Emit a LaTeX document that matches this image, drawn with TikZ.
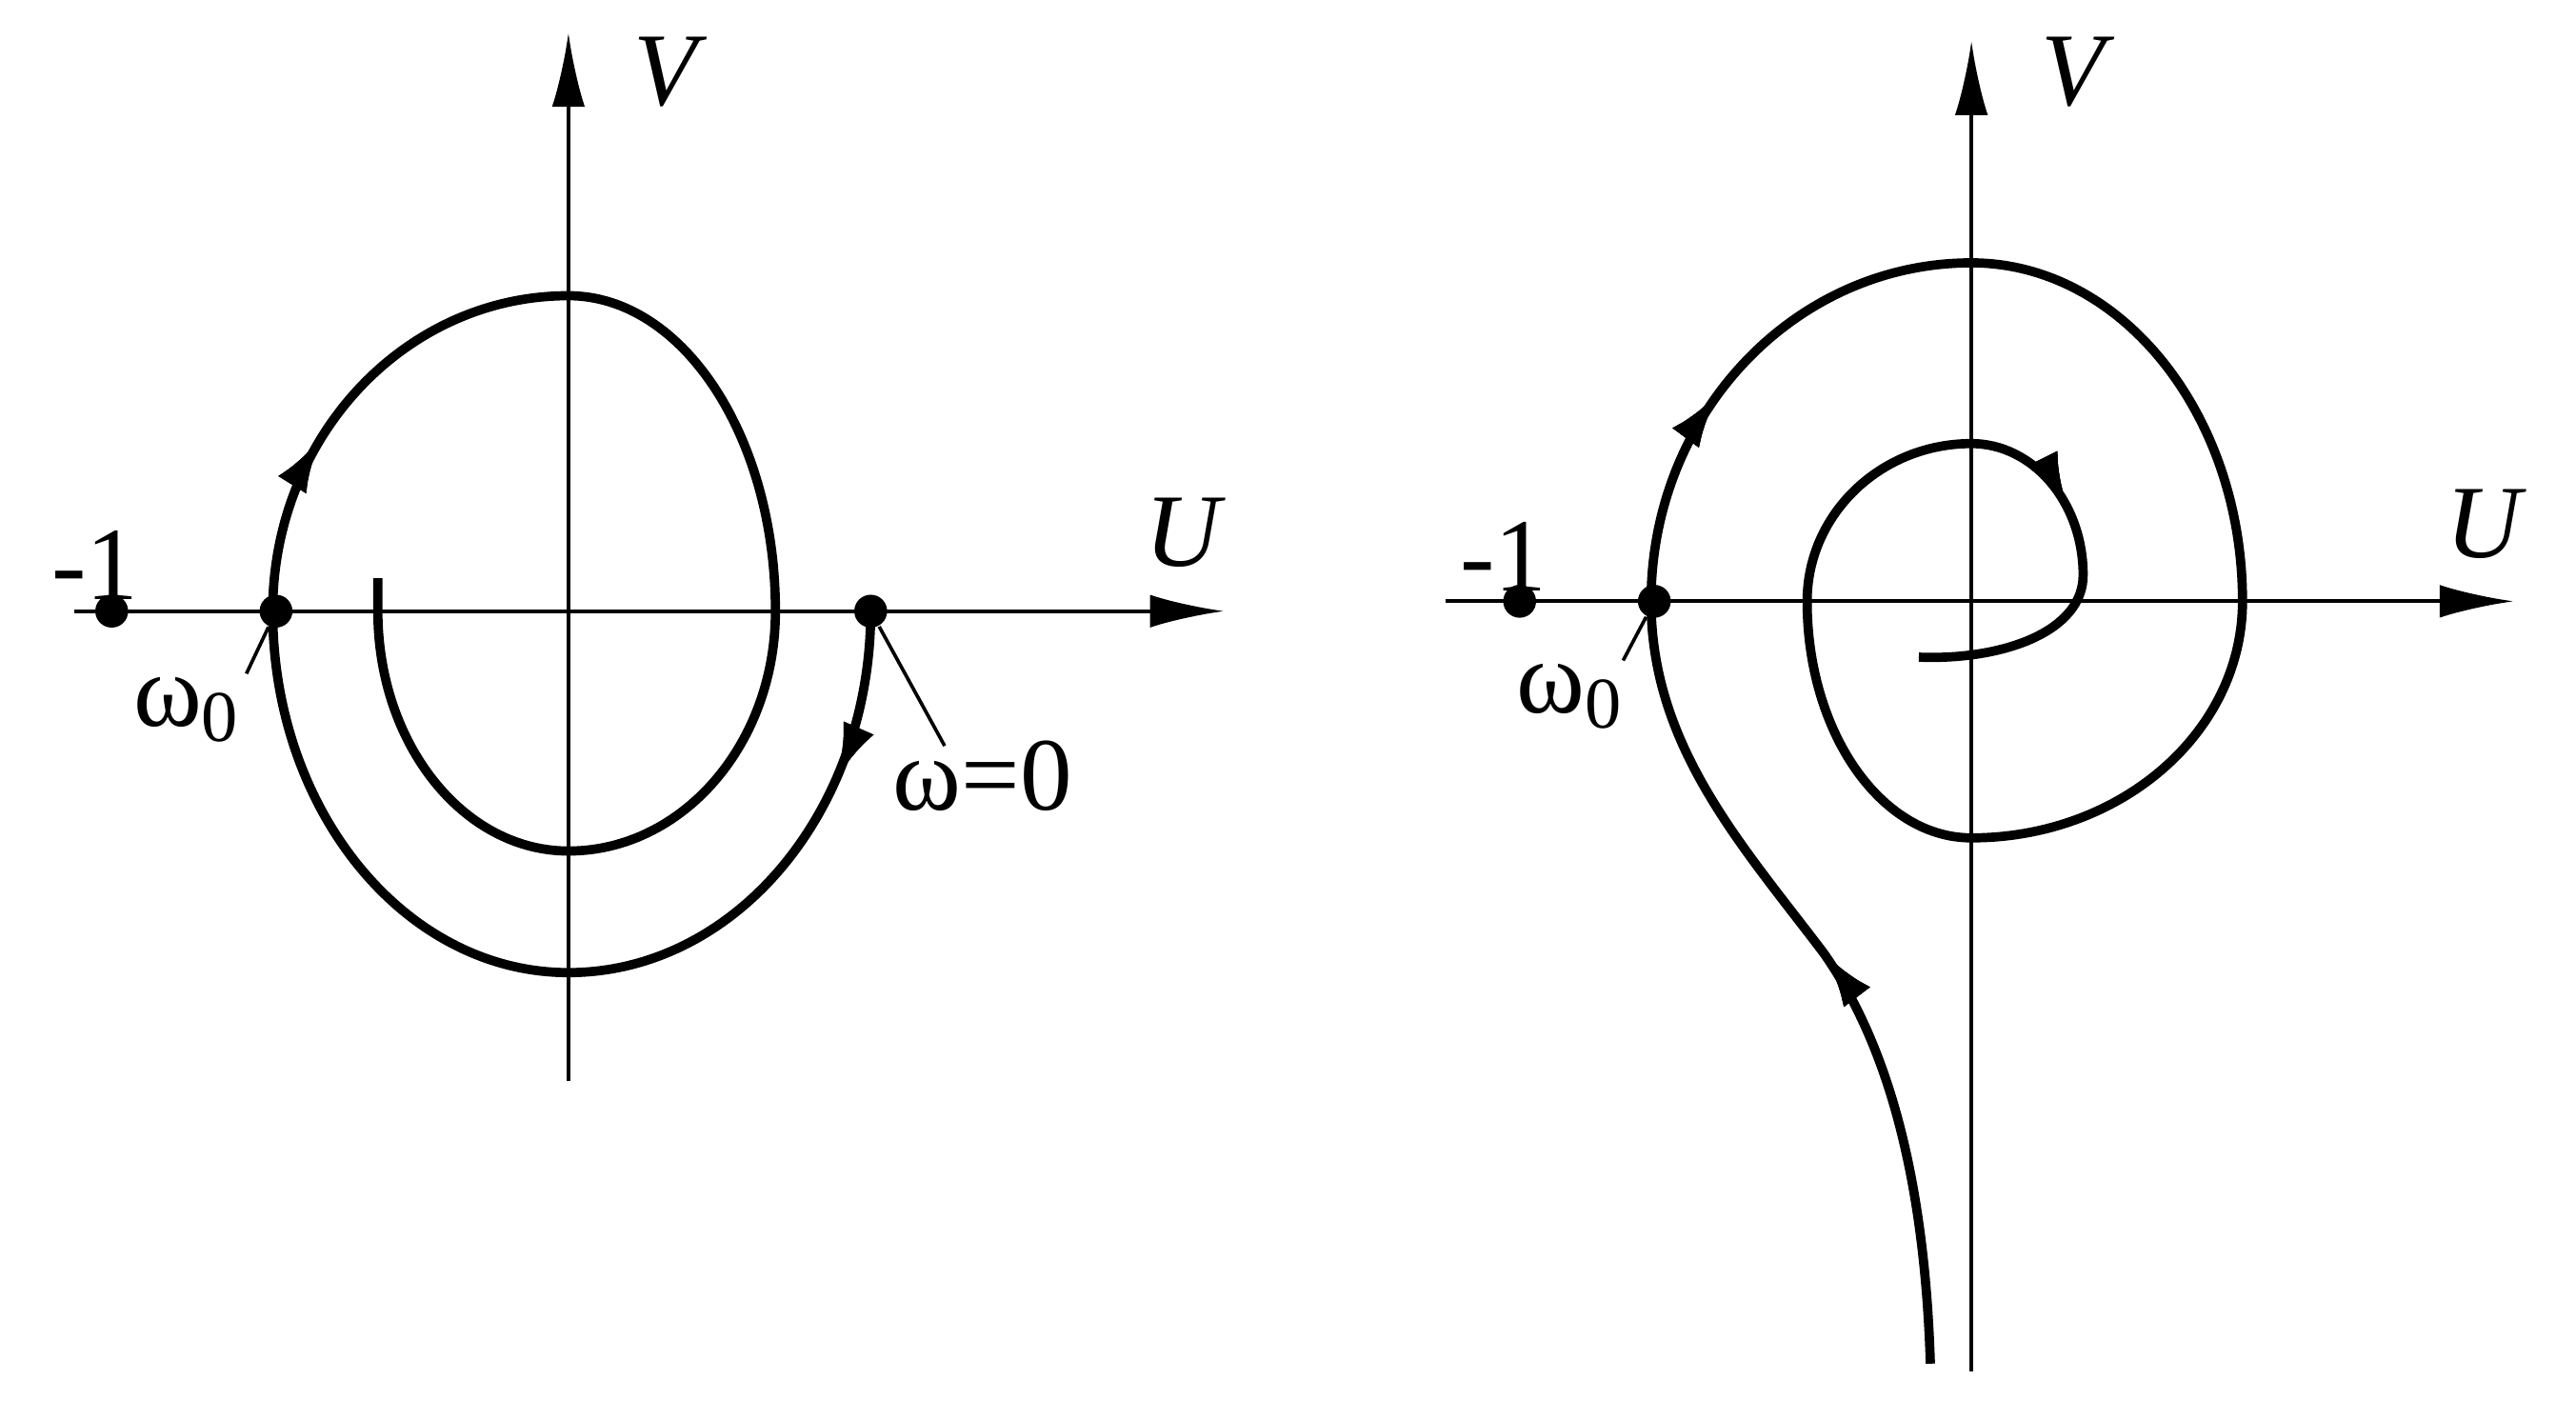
\documentclass[tikz,border=0pt]{standalone}
\usepackage{fontspec}
\setmainfont{Liberation Serif}
\usetikzlibrary{arrows.meta,decorations.markings}
\tikzset{
 ax/.style={line width=0.7pt,-{Latex[length=0.45cm,width=0.2cm]}},
 crv/.style={line width=1.6pt},
 lbl/.style={font=\fontsize{18}{20}\selectfont},
 ilbl/.style={font=\fontsize{18}{20}\selectfont\itshape},
 dotn/.style={circle,fill=black,inner sep=0pt,minimum size=0.2cm},
 am/.style={postaction={decorate},decoration={markings,mark=at position #1 with {\arrow{Latex[length=0.34cm,width=0.2cm]}}}}
}
\begin{document}
\begin{tikzpicture}[x=0.01cm,y=0.01cm]
\useasboundingbox (0,0) rectangle (1568,864);
% left
\coordinate (la0) at (45,492); \coordinate (la1) at (745,492);
\coordinate (lv0) at (346,206); \coordinate (lv1) at (346,844);
\draw[ax] (la0) -- (la1); \draw[ax] (lv0) -- (lv1);
\node[ilbl] (lV) at (405,820) {V};
\node[ilbl] (lU) at (720,540) {U};
\node[lbl] (lm1) at (58,520) {-1};
\node[dotn] (ld1) at (68,492) {};
\node[dotn] (lw0) at (168,492) {};
\node[lbl] (lw0l) at (114,432) {ω\textsubscript{0}};
\node[dotn] (lwz) at (530,492) {};
\node[lbl] (lwzl) at (598,392) {ω=0};
\draw[line width=0.6pt] (lw0) -- (150,454);
\draw[line width=0.6pt] (lwz) -- (575,410);
\draw[crv,am=0.065,am=0.46] (lwz.center)
 arc[start angle=0,end angle=-90,x radius=184,y radius=220]
 arc[start angle=-90,end angle=-180,x radius=180,y radius=220]
 arc[start angle=180,end angle=90,x radius=180,y radius=192]
 arc[start angle=90,end angle=0,x radius=126,y radius=192]
 arc[start angle=0,end angle=-90,x radius=126,y radius=146]
 arc[start angle=-90,end angle=-180,x radius=116,y radius=146] -- ++(0,20);
% right
\coordinate (ra0) at (880,498); \coordinate (ra1) at (1530,498);
\coordinate (rv0) at (1200,29); \coordinate (rv1) at (1200,839);
\draw[ax] (ra0) -- (ra1); \draw[ax] (rv0) -- (rv1);
\node[ilbl] (rV) at (1262,820) {V};
\node[ilbl] (rU) at (1512,545) {U};
\node[lbl] (rm1) at (915,525) {-1};
\node[dotn] (rd1) at (925,498) {};
\node[dotn] (rw0) at (1007,498) {};
\node[lbl] (rw0l) at (956,440) {ω\textsubscript{0}};
\draw[line width=0.6pt] (rw0) -- (988,462);
\draw[crv,am=0.135,am=0.33,am=0.915] (1175,34) .. controls (1172,130) and (1155,220) .. (1110,284)
 .. controls (1060,350) and (1005,410) .. (1005,498)
 arc[start angle=180,end angle=90,x radius=195,y radius=206]
 arc[start angle=90,end angle=0,x radius=165,y radius=206]
 arc[start angle=0,end angle=-90,x radius=165,y radius=144]
 arc[start angle=-90,end angle=-180,x radius=100,y radius=144]
 arc[start angle=180,end angle=90,x radius=100,y radius=96]
 arc[start angle=90,end angle=0,x radius=68,y radius=80]
 .. controls (1268,480) and (1220,462) .. (1168,464);
\end{tikzpicture}
\end{document}
